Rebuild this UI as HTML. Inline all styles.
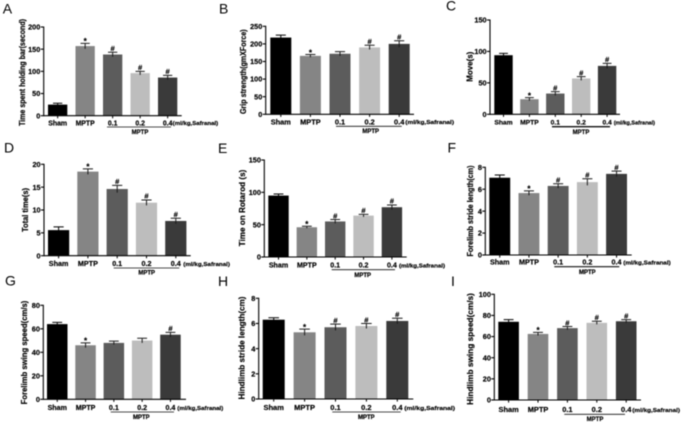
<!DOCTYPE html>
<html lang="en">
<head>
<meta charset="utf-8">
<title>Behavioural test bar charts</title>
<style>
html,body{margin:0;padding:0;background:#fff;width:685px;height:425px;overflow:hidden}
svg{display:block;filter:blur(.4px)}
text{font-family:"Liberation Sans",sans-serif;fill:#000}
.b{font-weight:bold;stroke:#000;stroke-width:.18px}
</style>
</head>
<body>
<svg id="fig" xmlns="http://www.w3.org/2000/svg" width="685" height="425" viewBox="0 0 685 425"></svg>
<script>
const categories = ['Sham', 'MPTP', '0.1', '0.2', '0.4'];

const valuesA = [25, 157, 138, 96, 86];
const errorsA = [3, 6, 5, 4, 5];
const marksA = ['', '*', '#', '#', '#'];
const ticksA = [0, 50, 100, 150, 200];

const valuesB = [218, 166, 172, 190, 200];
const errorsB = [7, 4, 6, 6, 9];
const marksB = ['', '*', '', '#', '#'];
const ticksB = [0, 50, 100, 150, 200, 250];

const valuesC = [94, 24, 33, 57, 77];
const errorsC = [3, 2.5, 3, 3, 4];
const marksC = ['', '*', '#', '#', '#'];
const ticksC = [0, 50, 100, 150];

const valuesD = [5.6, 18.4, 14.6, 11.6, 7.6];
const errorsD = [0.7, 0.6, 0.8, 0.6, 0.6];
const marksD = ['', '*', '#', '#', '#'];
const ticksD = [0, 5, 10, 15, 20];

const valuesE = [95, 46, 55, 64, 77];
const errorsE = [2.5, 1.5, 3, 2, 3.5];
const marksE = ['', '*', '#', '#', '#'];
const ticksE = [0, 50, 100, 150];

const valuesF = [7.05, 5.65, 6.3, 6.65, 7.4];
const errorsF = [0.25, 0.2, 0.2, 0.3, 0.25];
const marksF = ['', '*', '#', '#', '#'];
const ticksF = [0, 2, 4, 6, 8];

const valuesG = [64, 46, 48, 50, 55];
const errorsG = [1.5, 2, 1.5, 2, 2];
const marksG = ['', '*', '', '', '#'];
const ticksG = [0, 20, 40, 60, 80];

const valuesH = [6.3, 5.3, 5.7, 5.8, 6.2];
const errorsH = [0.15, 0.25, 0.25, 0.2, 0.22];
const marksH = ['', '*', '#', '#', '#'];
const ticksH = [0, 2, 4, 6, 8];

const valuesI = [74, 62.5, 68, 73, 74.5];
const errorsI = [2, 1.5, 1.5, 1.5, 1.5];
const marksI = ['', '*', '#', '#', '#'];
const ticksI = [0, 20, 40, 60, 80, 100];

const barFills = ['#000000', '#858585', '#5c5c5c', '#bdbdbd', '#3a3a3a'];

const panels = [
  {id:'a', letter:'A', lx:2.7, ly:13.5, title:'Time spent holding bar(second)', tx:22, tc:72.5, tl:107,
   values:valuesA, errors:errorsA, marks:marksA, ticks:ticksA,
   ax:43.7, top:27, bot:115.7, end:181.7, b0:48, pitch:27.5, w:19.3, fs:6.9,
   labY:125.3, grpY:127, grpX0:107, grpX1:171, grpW:.8, grpC:140, grpT:134, sufX:172.7, sufL:45.5},
  {id:'b', letter:'B', lx:219, ly:13.7, title:'Grip strength(gmXForce)', tx:243, tc:71.7, tl:84.7,
   values:valuesB, errors:errorsB, marks:marksB, ticks:ticksB,
   ax:265.7, top:26.3, bot:114.3, end:414, b0:270.3, pitch:29.6, w:21, fs:7.4,
   labY:124.4, grpY:126.3, grpX0:336, grpX1:401.7, grpW:.8, grpC:370.7, grpT:133, sufX:405.3, sufL:48.7},
  {id:'c', letter:'C', lx:446, ly:10.7, title:'Move(s)', tx:469.7, tc:66.7, tl:30,
   values:valuesC, errors:errorsC, marks:marksC, ticks:ticksC,
   ax:490, top:20, bot:114.3, end:620, b0:494.3, pitch:25.9, w:18.4, fs:6.7,
   labY:124.7, grpY:126.7, grpX0:552, grpX1:610, grpW:1.3, grpC:581, grpT:134, sufX:613.7, sufL:41.3},
  {id:'d', letter:'D', lx:4, ly:152.3, title:'Total time(s)', tx:25, tc:210, tl:44,
   values:valuesD, errors:errorsD, marks:marksD, ticks:ticksD,
   ax:44, top:164.3, bot:255.7, end:190.7, b0:48, pitch:29.3, w:21.2, fs:7.2,
   labY:266, grpY:268, grpX0:113.7, grpX1:179.3, grpW:.8, grpC:146.7, grpT:274.5, sufX:183.3, sufL:46.7},
  {id:'e', letter:'E', lx:218, ly:153, title:'Time on Rotarod (s)', tx:242.3, tc:208, tl:76.7,
   values:valuesE, errors:errorsE, marks:marksE, ticks:ticksE,
   ax:264.3, top:160, bot:257, end:406.7, b0:268.3, pitch:28.35, w:20.4, fs:7.1,
   labY:267.7, grpY:269.7, grpX0:331.7, grpX1:395, grpW:.8, grpC:362.7, grpT:277, sufX:399, sufL:46},
  {id:'f', letter:'F', lx:447.5, ly:152.7, title:'Forelimb stride length(cm)', tx:470, tc:211, tl:91,
   values:valuesF, errors:errorsF, marks:marksF, ticks:ticksF,
   ax:485.3, top:167.3, bot:255, end:631.7, b0:489.3, pitch:29.2, w:20.9, fs:7.2,
   labY:264.7, grpY:266.7, grpX0:554.3, grpX1:619.3, grpW:1.1, grpC:587.3, grpT:273.8, sufX:623.3, sufL:47.4},
  {id:'g', letter:'G', lx:5, ly:285.5, title:'Forelimb swing speed(cm/s)', tx:24.3, tc:352.5, tl:103.7,
   values:valuesG, errors:errorsG, marks:marksG, ticks:ticksG,
   ax:43.3, top:305.3, bot:399.3, end:186, b0:47, pitch:28.3, w:20.5, fs:7.1,
   labY:410, grpY:412, grpX0:110.7, grpX1:174, grpW:.8, grpC:141.3, grpT:419.2, sufX:177.3, sufL:46},
  {id:'h', letter:'H', lx:218, ly:286, title:'Hindlimb stride length(cm)', tx:241.7, tc:348, tl:103,
   values:valuesH, errors:errorsH, marks:marksH, ticks:ticksH,
   ax:258.7, top:298.3, bot:399, end:413.3, b0:262.7, pitch:30.9, w:22, fs:7.5,
   labY:410, grpY:412, grpX0:332.3, grpX1:400.7, grpW:.8, grpC:366.3, grpT:418.8, sufX:404.3, sufL:50.7},
  {id:'i', letter:'I', lx:451, ly:286, title:'Hindlimb swing speed(cm/s)', tx:470.3, tc:349, tl:111.7,
   values:valuesI, errors:errorsI, marks:marksI, ticks:ticksI,
   ax:494.3, top:294.3, bot:400, end:641, b0:498.3, pitch:29.4, w:20.6, fs:7.4,
   labY:412.2, grpY:414.3, grpX0:564.3, grpX1:625, grpW:.8, grpC:595, grpT:421.2, sufX:632.3, sufL:47.7}
];

const NS = 'http://www.w3.org/2000/svg';
const fig = document.getElementById('fig');

function make(parent, tag, attrs, content) {
  const el = document.createElementNS(NS, tag);
  for (const k in attrs) el.setAttribute(k, attrs[k]);
  if (content !== undefined) el.textContent = content;
  parent.appendChild(el);
  return el;
}

panels.forEach(function (p) {
  const yMax = p.ticks[p.ticks.length - 1];
  const yScale = function (v) { return p.bot - (v / yMax) * (p.bot - p.top); };
  const xLeft = function (i) { return p.b0 + i * p.pitch; };
  const xMid = function (i) { return xLeft(i) + p.w / 2; };

  const g = make(fig, 'g', {});
  
  

  const letter = make(g, 'text', {x: p.lx, y: p.ly, 'font-size': 14}, p.letter);
  
  

  const title = make(g, 'text', {
    class: 'b', x: 0, y: 0, 'font-size': 8, 'text-anchor': 'middle',
    textLength: p.tl, lengthAdjust: 'spacingAndGlyphs',
    transform: 'translate(' + (p.tx + 2.8) + ' ' + p.tc + ') rotate(-90)'
  }, p.title);
  
  

  p.values.forEach(function (v, i) {
    const bar = make(g, 'rect', {
      x: xLeft(i), y: yScale(v), width: p.w, height: p.bot - yScale(v), fill: barFills[i]
    });
    
    

    const hi = yScale(v + p.errors[i]);
    const lo = yScale(v - p.errors[i]);
    const cx = xMid(i);
    const err = make(g, 'path', {
      d: 'M' + cx + ' ' + lo + 'V' + hi + 'M' + (cx - p.w * 0.24) + ' ' + hi + 'H' + (cx + p.w * 0.24),
      stroke: i === 0 ? '#000' : '#1a1a1a', 'stroke-width': 1, fill: 'none'
    });
    
    

    if (p.marks[i]) {
      const isStar = p.marks[i] === '*';
      const mark = make(g, 'text', {
        class: 'b', x: cx, y: hi + (isStar ? 0.8 : -1.2), 'font-size': isStar ? 8 : 7.6, 'text-anchor': 'middle'
      }, p.marks[i]);
      
      
    }

    const tickX = make(g, 'line', {
      x1: cx, x2: cx, y1: p.bot, y2: p.bot + 2.6, stroke: '#000', 'stroke-width': 1
    });
    
    

    const lab = make(g, 'text', {
      class: 'b', x: cx, y: p.labY, 'font-size': p.fs, 'text-anchor': 'middle'
    }, categories[i]);
    
    
  });

  const yAxis = make(g, 'line', {
    x1: p.ax, x2: p.ax, y1: p.top - 0.5, y2: p.bot + 0.5, stroke: '#000', 'stroke-width': 1.1
  });
  
  

  const xAxis = make(g, 'line', {
    x1: p.ax, x2: p.end, y1: p.bot, y2: p.bot, stroke: '#000', 'stroke-width': 1.1
  });
  
  

  p.ticks.forEach(function (t) {
    const y = yScale(t);
    const tick = make(g, 'line', {
      x1: p.ax - 3, x2: p.ax, y1: y, y2: y, stroke: '#000', 'stroke-width': 1.1
    });
    
    

    const lab = make(g, 'text', {
      class: 'b', x: p.ax - 3.4, y: y + 2.6, 'font-size': 7.3, 'text-anchor': 'end'
    }, String(t));
    
    
  });

  const suffix = make(g, 'text', {
    class: 'b', x: p.sufX, y: p.labY - 0.2, 'font-size': 5.8,
    textLength: p.sufL, lengthAdjust: 'spacingAndGlyphs'
  }, '(ml/kg,Safranal)');
  
  

  const grpLine = make(g, 'line', {
    x1: p.grpX0, x2: p.grpX1, y1: p.grpY, y2: p.grpY, stroke: '#111', 'stroke-width': p.grpW
  });
  
  

  const grpText = make(g, 'text', {
    class: 'b', x: p.grpC, y: p.grpT, 'font-size': 6, 'text-anchor': 'middle'
  }, 'MPTP');
  
  
});
</script>
</body>
</html>
